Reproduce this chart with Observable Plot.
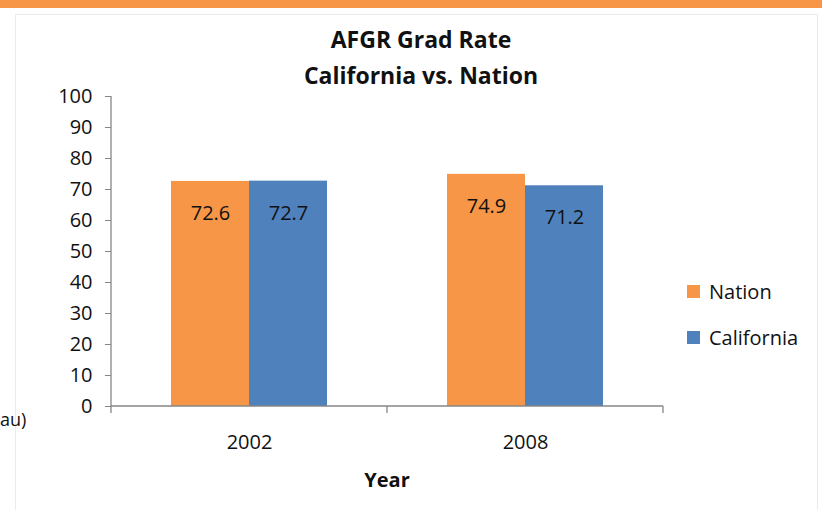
<!DOCTYPE html>
<html>
<head>
<meta charset="utf-8">
<script src="https://cdn.jsdelivr.net/npm/d3@7"></script>
<script src="https://cdn.jsdelivr.net/npm/@observablehq/plot@0.6"></script>
<style>
  html, body { margin: 0; padding: 0; background: #fff; }
  #wrap { position: relative; width: 822px; height: 510px; overflow: hidden; background: #fff; font-family: "Open Sans", sans-serif; color: #111; }
  #band { position: absolute; left: 0; top: 0; width: 822px; height: 8px; background: #f79646; }
  #frame { position: absolute; left: 15px; top: 14px; width: 801px; height: 520px; border: 1px solid #ebebeb; }
  #chart { position: absolute; left: 0; top: 0; }
  .t { position: absolute; white-space: nowrap; line-height: 1; }
  .title { font-weight: 700; font-size: 23px; width: 842px; left: 0; text-align: center; }
  .leg { font-size: 20px; }
  .sw { position: absolute; width: 13px; height: 13px; }
</style>
</head>
<body>
<div id="wrap">
  <div id="band"></div>
  <div id="frame"></div>
  <div id="chart"></div>
</div>
<script>
// ---- data ----
const titleLines = ["AFGR Grad Rate", "California vs. Nation"];
const years = ["2002", "2008"];
const seriesNames = ["Nation", "California"];
const nationValues = [72.6, 74.9];
const californiaValues = [72.7, 71.2];
const seriesColors = ["#f79646", "#4f81bd"];
const yTicks = [0, 10, 20, 30, 40, 50, 60, 70, 80, 90, 100];
const xLabel = "Year";
const cutText = "au)";

const valuesBySeries = {Nation: nationValues, California: californiaValues};
const data = years.flatMap((year, i) =>
  seriesNames.map(s => ({year, series: s, value: valuesBySeries[s][i]}))
);

const axisColor = "#868686";

const chart = Plot.plot({
  width: 822,
  height: 510,
  marginLeft: 111,
  marginRight: 159,
  marginTop: 96,
  marginBottom: 104,
  style: {fontFamily: "Open Sans, sans-serif", fontSize: "20px", color: "#111", background: "transparent", overflow: "visible"},
  fx: {domain: years, padding: 0, label: null},
  x: {domain: seriesNames, paddingInner: 0, paddingOuter: 0.769, axis: null},
  y: {domain: [0, 100], axis: null},
  color: {domain: seriesNames, range: seriesColors},
  marks: [
    Plot.barY(data, {fx: "year", x: "series", y: "value", fill: "series"}),
    Plot.text(data, {fx: "year", x: "series", y: "value", text: d => d.value.toFixed(1), dy: 32, fill: "#111", fontSize: 20}),
    Plot.axisY({ticks: yTicks, tickSize: 6, tickPadding: 13, stroke: axisColor, fill: "#111", fontSize: 20, label: null}),
    Plot.axisFx({anchor: "bottom", tickSize: 0, tickPadding: 28, fill: "#111", fontSize: 20, label: null})
  ]
});

document.getElementById("chart").appendChild(chart);

// axis lines and category boundary ticks from the plot's own scales
const fx = chart.scale("fx");
const y = chart.scale("y");
const y0 = y.apply(0), yTop = y.apply(100);
const xs = years.map(yr => fx.apply(yr));
const xEnd = fx.apply(years[years.length - 1]) + fx.bandwidth;
const bounds = xs.concat([xEnd]);
const g = d3.select(chart).append("g").attr("stroke", axisColor).attr("stroke-width", 1.3);
g.append("line").attr("x1", xs[0]).attr("x2", xs[0]).attr("y1", yTop).attr("y2", y0);
g.append("line").attr("x1", xs[0]).attr("x2", xEnd).attr("y1", y0).attr("y2", y0);
bounds.forEach(bx => g.append("line").attr("x1", bx).attr("x2", bx).attr("y1", y0).attr("y2", y0 + 7));

// texts
const wrap = document.getElementById("wrap");
function addText(txt, cls, css) {
  const d = document.createElement("div");
  d.className = "t " + cls;
  d.textContent = txt;
  Object.assign(d.style, css);
  wrap.appendChild(d);
  return d;
}
addText(titleLines[0], "title", {top: "28px"});
addText(titleLines[1], "title", {top: "64px"});
addText(xLabel, "", {left: "0px", width: (2 * 387) + "px", textAlign: "center", top: "470px", fontWeight: "700", fontSize: "20px"});
addText(cutText, "", {left: "0px", top: "410px", fontSize: "18px"});

seriesNames.forEach((s, i) => {
  const sw = document.createElement("div");
  sw.className = "sw";
  Object.assign(sw.style, {left: "687px", top: (285 + i * 46) + "px", background: seriesColors[i]});
  wrap.appendChild(sw);
  addText(s, "leg", {left: "709px", top: (282 + i * 46) + "px"});
});
</script>
</body>
</html>
